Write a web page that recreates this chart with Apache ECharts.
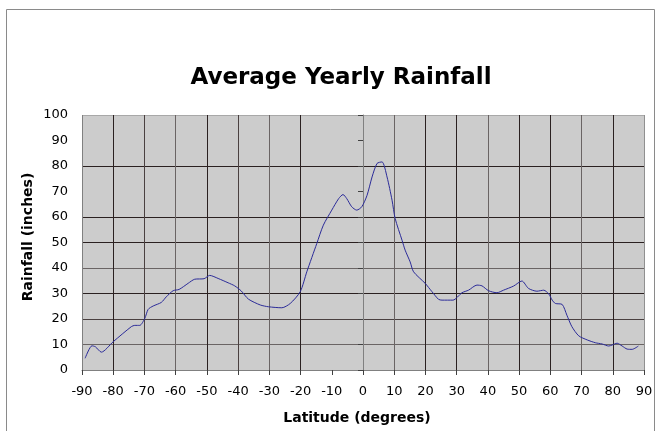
<!DOCTYPE html>
<html>
<head>
<meta charset="utf-8">
<script src="https://cdn.jsdelivr.net/npm/echarts@6/dist/echarts.min.js"></script>
<style>
html,body{margin:0;padding:0;background:#fff;}
#chart{width:658px;height:431px;}
</style>
</head>
<body>
<div id="chart"></div>
<script>
// Data
var latitudes = [-89, -86.8, -85.7, -83.8, -80, -74.2, -73.1, -71.5, -69.9, -68.8, -67.2, -64.6, -63, -60.8, -58.9, -56, -53.9, -50.9, -49.1, -46.4, -43.2, -41.1, -39, -36.7, -32.9, -30.3, -26, -23.3, -20.1, -18, -14.8, -12.7, -10, -7.8, -6.4, -5.2, -3.6, -2, -0.4, 1.3, 2.9, 4.5, 6.1, 7.7, 9.3, 10.3, 12.5, 13.5, 15.1, 16.2, 19.9, 22.1, 24.2, 25.3, 28.8, 31.7, 33.8, 36.5, 38.1, 40.2, 42.9, 45, 48.2, 50.9, 53, 55.7, 57.9, 59.5, 60.6, 61.6, 63.8, 65.3, 66.9, 69.1, 71.8, 74.4, 76.6, 78.7, 79.8, 81.4, 83, 84.6, 86.2, 88.2];
var rainfall = [4.6, 9.5, 9.1, 7.0, 11.1, 17.0, 17.5, 17.5, 20.2, 23.8, 25.1, 26.5, 28.7, 31.1, 31.6, 34, 35.6, 35.8, 37.1, 35.9, 34.2, 33, 31, 27.8, 25.5, 24.8, 24.4, 26.1, 30.7, 38.5, 49.6, 56.8, 62.7, 67.2, 68.8, 67.2, 64, 62.7, 64, 68.5, 75.7, 81, 81.6, 75.7, 66.6, 59.4, 50.9, 47, 42.4, 38.5, 34, 30.7, 27.7, 27.4, 27.4, 30.3, 31.3, 33.3, 33, 31.1, 30.3, 31.3, 32.9, 34.9, 32, 30.9, 31.3, 29.8, 27.4, 26.1, 25.7, 21.5, 17, 13.4, 11.8, 10.7, 10.2, 9.4, 9.8, 10.5, 9.4, 8.2, 8.1, 9.4];
var xTicks = {min: -90, max: 90, interval: 10};
var yTicks = {min: 0, max: 100, interval: 10};
var titleText = 'Average Yearly Rainfall';
var xName = 'Latitude (degrees)';
var yName = 'Rainfall (inches)';

var points = latitudes.map(function (lat, i) { return [lat, rainfall[i]]; });

var D = '#2a2020', M = '#4a4040', G = '#6a6464', T = 'rgba(0,0,0,0)';
var xGridColors = ['#808080', D, M, G, D, M, G, D, T, G, G, D, D, G, D, D, G, D, '#909090'];
var yGridColors = ['#808080', G, M, D, G, D, D, T, D, T, '#a8a8a8'];

var chart = echarts.init(document.getElementById('chart'), null, {renderer: 'canvas'});
chart.setOption({
  animation: false,
  backgroundColor: '#ffffff',
  grid: {left: 82, right: 14, top: 115, bottom: 61, show: true, backgroundColor: '#cccccc', borderWidth: 0, containLabel: false, outerBoundsMode: 'none'},
  graphic: [
    {type: 'rect', shape: {x: 6.5, y: 9.5, width: 648, height: 440}, style: {fill: 'none', stroke: '#8a8a8a', lineWidth: 1}, silent: true, z: -1},
    {type: 'text', x: 341, y: 78, style: {text: titleText, font: 'bold 23px "DejaVu Sans"', fill: '#000', align: 'center', verticalAlign: 'middle'}},
    {type: 'text', x: 357, y: 418, style: {text: xName, font: 'bold 14px "DejaVu Sans"', fill: '#000', align: 'center', verticalAlign: 'middle'}},
    {type: 'text', x: 28, y: 237, rotation: Math.PI / 2, style: {text: yName, font: 'bold 14px "DejaVu Sans"', fill: '#000', align: 'center', verticalAlign: 'middle'}}
  ],
  xAxis: {
    type: 'value', min: xTicks.min, max: xTicks.max, interval: xTicks.interval,
    axisLine: {show: true, onZero: false, lineStyle: {color: '#808080', width: 1}},
    axisTick: {show: true, inside: false, length: 5, lineStyle: {color: '#404040'}},
    axisLabel: {margin: 15, color: '#000', fontFamily: 'DejaVu Sans', fontSize: 13, showMinLabel: true, showMaxLabel: true},
    splitLine: {show: true, showMinLine: true, showMaxLine: true, lineStyle: {color: xGridColors, width: 1}}
  },
  yAxis: {
    type: 'value', min: yTicks.min, max: yTicks.max, interval: yTicks.interval,
    axisLine: {show: true, lineStyle: {color: '#808080', width: 1}},
    axisTick: {show: true, inside: false, length: 5, lineStyle: {color: '#404040'}},
    axisLabel: {margin: 14, color: '#000', fontFamily: 'DejaVu Sans', fontSize: 13},
    splitLine: {show: true, showMinLine: true, showMaxLine: true, lineStyle: {color: yGridColors, width: 1}}
  },
  series: [{
    type: 'line', data: points, smooth: 0.25, showSymbol: false, symbol: 'none',
    lineStyle: {color: '#2b2b99', width: 1}, clip: true
  }]
});
</script>
</body>
</html>
